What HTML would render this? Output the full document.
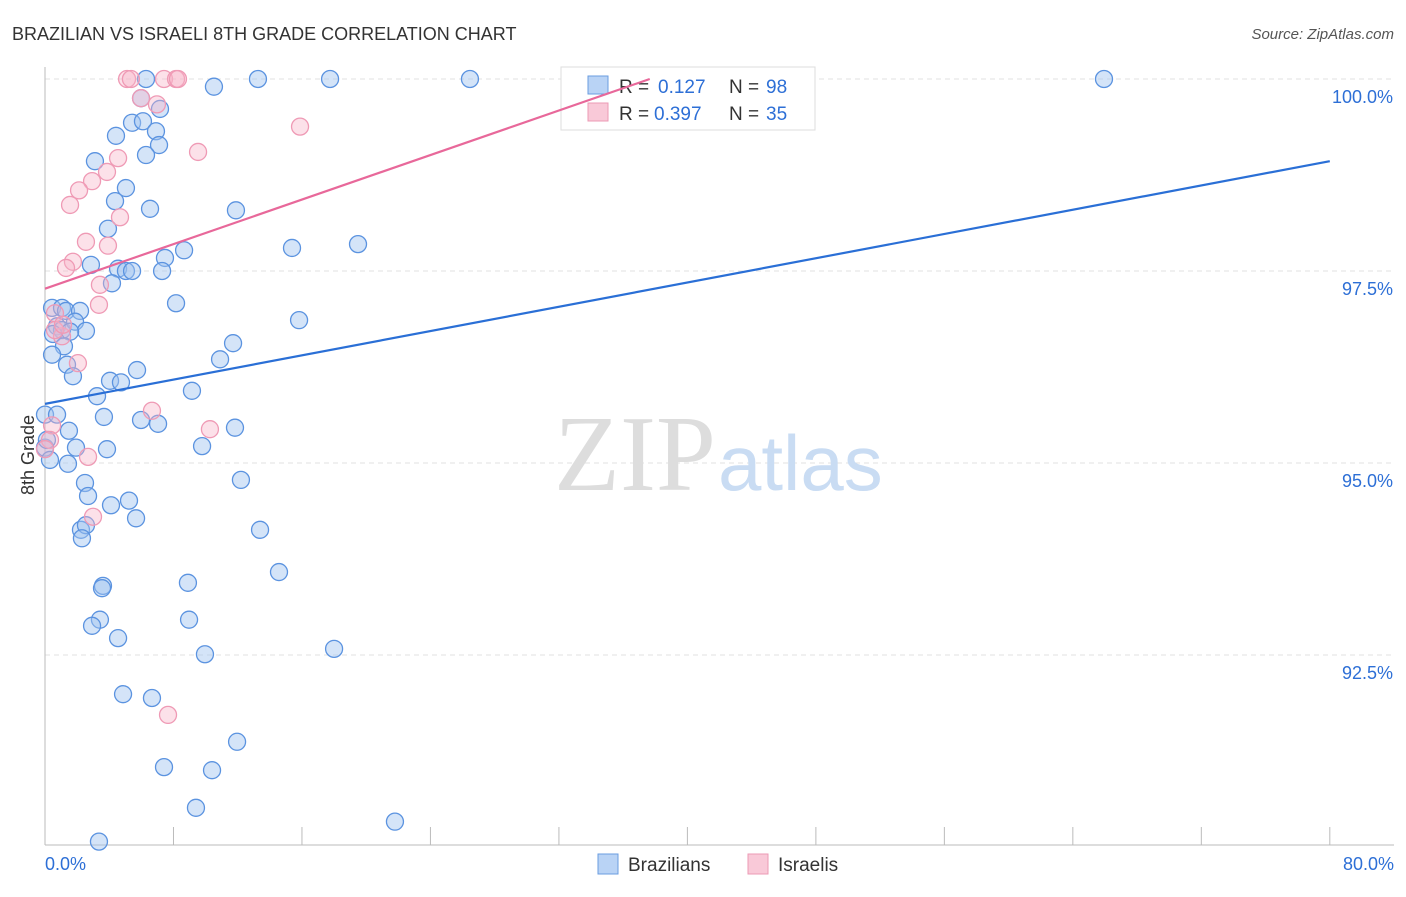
<!DOCTYPE html>
<html><head><meta charset="utf-8"><style>
body{margin:0;background:#fff;font-family:"Liberation Sans",sans-serif;}
</style></head><body>
<svg width="1406" height="892" xmlns="http://www.w3.org/2000/svg">
<text x="12" y="40" font-size="18" fill="#333">BRAZILIAN VS ISRAELI 8TH GRADE CORRELATION CHART</text>
<text x="1394" y="39" font-size="15" fill="#555" font-style="italic" text-anchor="end">Source: ZipAtlas.com</text>
<g id="grid"></g>
<text x="716" y="490" font-size="108" font-family="Liberation Serif,serif" fill="#ddd" text-anchor="end">ZIP</text>
<text x="718" y="490" font-size="78" fill="#c9dcf3">atlas</text>
<g id="pts"></g>
<g>
<rect x="561" y="67" width="254" height="63" fill="#fff" stroke="#ddd"/>
<rect x="588" y="76" width="20" height="18" fill="#b9d3f5" stroke="#6a9de0"/>
<rect x="588" y="103" width="20" height="18" fill="#f9c9d8" stroke="#ec9ab5"/>
<text x="619" y="93" font-size="19" fill="#333">R =</text>
<text x="658" y="93" font-size="19" fill="#2d6fd6">0.127</text>
<text x="729" y="93" font-size="19" fill="#333">N =</text>
<text x="766" y="93" font-size="19" fill="#2d6fd6">98</text>
<text x="619" y="120" font-size="19" fill="#333">R =</text>
<text x="654" y="120" font-size="19" fill="#2d6fd6">0.397</text>
<text x="729" y="120" font-size="19" fill="#333">N =</text>
<text x="766" y="120" font-size="19" fill="#2d6fd6">35</text>
</g>
<g id="lines"></g>
<text x="34" y="455" font-size="18" fill="#333" text-anchor="middle" transform="rotate(-90 34 455)">8th Grade</text>
<g>
<rect x="598" y="854" width="20" height="20" fill="#b9d3f5" stroke="#6a9de0"/>
<text x="628" y="871" font-size="19" fill="#333">Brazilians</text>
<rect x="748" y="854" width="20" height="20" fill="#f9c9d8" stroke="#ec9ab5"/>
<text x="778" y="871" font-size="19" fill="#333">Israelis</text>
</g>
</svg>
<script>
const yTicks=[100,97.5,95,92.5];
const yTickLabels=["100.0%","97.5%","95.0%","92.5%"];
const xTickLabels=["0.0%","80.0%"];
const blueX=[6.29,13.26,17.75,26.46,65.94,10.52,5.98,7.16,5.42,6.10,6.91,4.42,7.10,6.29,3.11,5.04,4.36,6.54,11.89,3.92,15.38,19.49,8.66,7.47,2.86,4.55,5.04,5.42,7.29,4.17,8.16,0.44,1.06,1.31,2.18,0.75,1.06,1.87,2.55,1.56,0.50,15.82,11.71,1.18,10.90,0.44,1.37,1.74,5.73,4.05,4.73,9.15,3.24,3.67,5.98,7.04,0,0.75,1.49,11.83,9.78,1.93,0,3.86,1.43,12.20,2.49,2.68,4.11,5.23,5.67,2.24,2.55,2.30,13.39,14.57,3.61,3.55,8.90,3.42,2.93,8.97,4.55,9.96,18.0,4.86,6.66,11.96,7.41,10.40,9.40,3.36,21.79,0.12,0.31];
const blueY=[100,100,100,100,100,99.90,99.75,99.61,99.43,99.45,99.32,99.26,99.14,99.01,98.93,98.58,98.41,98.31,98.29,98.05,97.80,97.85,97.77,97.67,97.58,97.53,97.50,97.50,97.50,97.34,97.08,97.02,97.02,96.98,96.98,96.78,96.73,96.84,96.72,96.71,96.68,96.86,96.56,96.52,96.35,96.41,96.28,96.13,96.21,96.07,96.05,95.94,95.87,95.60,95.56,95.51,95.63,95.63,95.42,95.46,95.22,95.20,95.20,95.18,94.99,94.78,94.74,94.57,94.45,94.51,94.28,94.13,94.19,94.02,94.13,93.58,93.40,93.37,93.44,92.96,92.88,92.96,92.72,92.51,92.58,91.99,91.94,91.37,91.04,91.00,90.51,90.07,90.33,95.30,95.04];
const pinkX=[5.11,5.35,7.41,8.16,8.28,5.98,6.97,15.88,9.53,4.55,3.86,2.93,2.12,1.56,4.67,2.55,3.92,1.74,1.31,3.42,3.36,0.62,1.06,2.05,6.66,10.27,2.68,0.44,2.99,7.66,0.31,0,0.62,1.12];
const pinkY=[100,100,100,100,100,99.75,99.67,99.38,99.05,98.97,98.79,98.67,98.55,98.36,98.20,97.88,97.83,97.62,97.54,97.32,97.06,96.95,96.65,96.30,95.68,95.44,95.08,95.49,94.30,91.72,95.30,95.18,96.73,96.80];
const blueTrend=[95.77,98.93];
const pinkTrend=[97.27,0.0725];
const NS="http://www.w3.org/2000/svg";
const X=v=>45+v*16.06, Y=v=>79+(100-v)*76.8;
function mk(tag,a,parent){const e=document.createElementNS(NS,tag);for(const k in a)e.setAttribute(k,a[k]);parent.appendChild(e);return e;}
const grid=document.getElementById('grid');
yTicks.forEach((t,i)=>{
 const l=mk('line',{x1:45,x2:1394,y1:Y(t),y2:Y(t),stroke:'#e2e2e2','stroke-dasharray':'5,4'},grid);
 
 
 const tx=mk('text',{x:1393,y:Y(t)+24,'font-size':18,fill:'#2d6fd6','text-anchor':'end'},grid);
 tx.textContent=yTickLabels[i];
 
 
});
const ax=mk('line',{x1:45,x2:1394,y1:845,y2:845,stroke:'#bbb'},grid);


const ay=mk('line',{x1:45,x2:45,y1:67,y2:845,stroke:'#bbb'},grid);


for(let i=1;i<=10;i++){const t=mk('line',{x1:X(i*8),x2:X(i*8),y1:827,y2:845,stroke:'#bbb'},grid);
 
 }
[[0,'start'],[80,'end']].forEach((p,i)=>{const t=mk('text',{x:i?1394:45,y:870,'font-size':18,fill:'#2d6fd6','text-anchor':p[1]},grid);t.textContent=xTickLabels[i];
 
 });
const pts=document.getElementById('pts');
blueX.forEach((x,i)=>{const c=mk('circle',{cx:X(x),cy:Y(blueY[i]),r:8.5,fill:'rgba(160,196,240,0.45)',stroke:'#5b93e0','stroke-width':1.3},pts);
 
 });
pinkX.forEach((x,i)=>{const c=mk('circle',{cx:X(x),cy:Y(pinkY[i]),r:8.5,fill:'rgba(247,180,200,0.4)',stroke:'#ef9ab5','stroke-width':1.3},pts);
 
 });
const lines=document.getElementById('lines');
const bl=mk('line',{x1:X(0),y1:Y(blueTrend[0]),x2:X(80),y2:Y(blueTrend[1]),stroke:'#2a6fd6','stroke-width':2.2},lines);


const xEnd=(100-pinkTrend[0])/pinkTrend[1];
const pl=mk('line',{x1:X(0),y1:Y(pinkTrend[0]),x2:X(xEnd),y2:Y(100),stroke:'#e8689a','stroke-width':2.2},lines);


</script>
</body></html>
